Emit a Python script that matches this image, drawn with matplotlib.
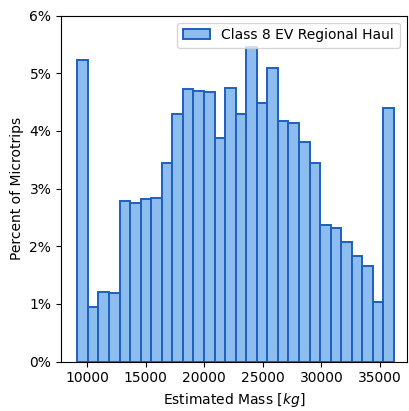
import numpy as np
import matplotlib
matplotlib.use("Agg")
import matplotlib.pyplot as plt
from matplotlib.ticker import FuncFormatter

# bin edges (kg) and percent of microtrips per bin
bin_start = 9172
bin_end = 36195
n_bins = 30
percent = [5.23, 0.95, 1.21, 1.19, 2.78, 2.75, 2.82, 2.84, 3.45, 4.29,
           4.73, 4.70, 4.68, 3.87, 4.74, 4.30, 5.45, 4.48, 5.10, 4.18,
           4.13, 3.80, 3.45, 2.37, 2.31, 2.08, 1.83, 1.65, 1.04, 4.40]
label = "Class 8 EV Regional Haul"

edges = np.linspace(bin_start, bin_end, n_bins + 1)
widths = np.diff(edges)

fig = plt.figure(figsize=(4.10, 4.11), dpi=100)
ax = fig.add_axes([0.149, 0.1204, 0.843, 0.8416])
ax.bar(edges[:-1], percent, width=widths, align="edge",
       facecolor="#8DBDEE", edgecolor="#1F5FBF", linewidth=1.4, label=label)
ax.set_xlim(7782, 37278)
ax.set_ylim(0, 6)
ax.set_xticks([10000, 15000, 20000, 25000, 30000, 35000])
ax.set_yticks([0, 1, 2, 3, 4, 5, 6])
ax.yaxis.set_major_formatter(FuncFormatter(lambda v, p: f"{v:.0f}%"))
ax.set_xlabel("Estimated Mass [$kg$]", fontsize=10)
ax.set_ylabel("Percent of Microtrips", fontsize=10)
ax.tick_params(labelsize=10)
ax.legend(loc="upper right", fontsize=10)
fig.savefig("out.png", dpi=100)
